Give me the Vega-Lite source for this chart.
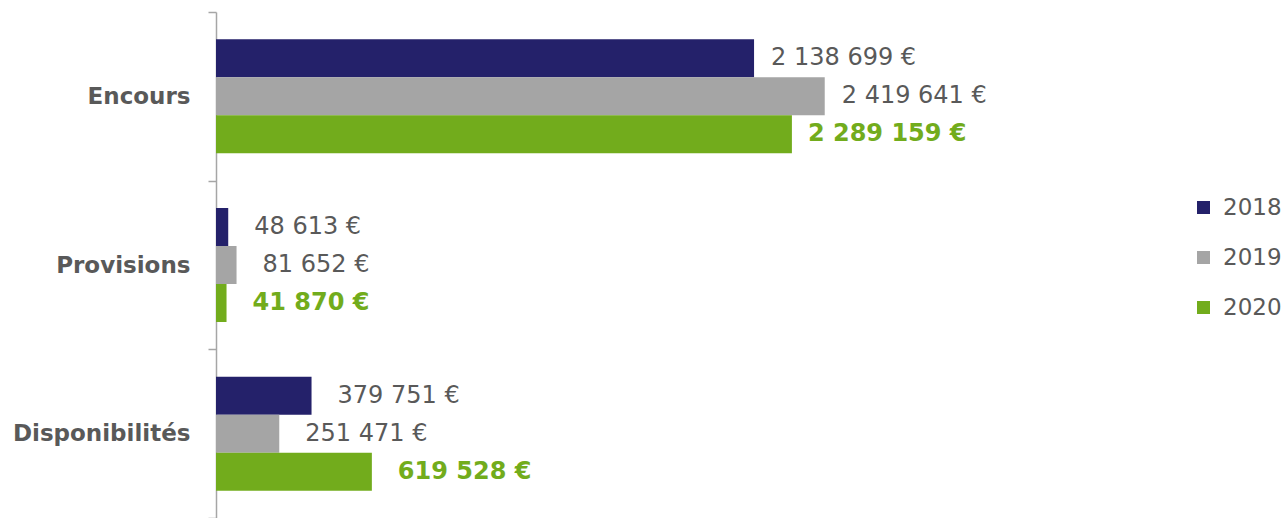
{
  "$schema": "https://vega.github.io/schema/vega-lite/v6.json",
  "autosize": "none",
  "width": 956,
  "height": 506,
  "padding": {"left": 216, "top": 12, "right": 113, "bottom": 0},
  "background": "white",
  "config": {
    "view": {"stroke": null},
    "locale": {"number": {"decimal": ",", "thousands": " ", "grouping": [3], "currency": ["", " €"]}},
    "font": "DejaVu Sans"
  },
  "data": {
    "values": [
      {"cat": "Encours", "year": "2018", "value": 2138699},
      {"cat": "Encours", "year": "2019", "value": 2419641},
      {"cat": "Encours", "year": "2020", "value": 2289159},
      {"cat": "Provisions", "year": "2018", "value": 48613},
      {"cat": "Provisions", "year": "2019", "value": 81652},
      {"cat": "Provisions", "year": "2020", "value": 41870},
      {"cat": "Disponibilités", "year": "2018", "value": 379751},
      {"cat": "Disponibilités", "year": "2019", "value": 251471},
      {"cat": "Disponibilités", "year": "2020", "value": 619528}
    ]
  },
  "encoding": {
    "y": {
      "field": "cat", "type": "nominal", "sort": ["Encours", "Provisions", "Disponibilités"], "title": null,
      "scale": {"paddingInner": 0, "paddingOuter": 0},
      "axis": {
        "tickBand": "extent", "domainColor": "#A6A6A6", "domainWidth": 1.5, "tickColor": "#A6A6A6", "tickWidth": 1.5, "tickSize": 8,
        "labelFont": "DejaVu Sans", "labelFontWeight": "bold", "labelFontSize": 23, "labelColor": "#595959", "labelPadding": 18
      }
    },
    "yOffset": {"field": "year", "type": "nominal", "sort": ["2018", "2019", "2020"], "scale": {"paddingInner": 0, "paddingOuter": 0.72}},
    "x": {"field": "value", "type": "quantitative", "scale": {"domain": [0, 3800000], "nice": false}, "axis": null}
  },
  "layer": [
    {
      "mark": {"type": "bar"},
      "encoding": {
        "color": {
          "field": "year", "type": "nominal",
          "scale": {"domain": ["2018", "2019", "2020"], "range": ["#24216A", "#A5A5A5", "#72AC1C"]},
          "legend": {
            "title": null, "orient": "none", "legendX": 976, "legendY": 184, "symbolType": "square", "symbolSize": 169,
            "symbolStrokeWidth": 0, "labelFont": "DejaVu Sans", "labelFontSize": 23, "labelColor": "#595959", "labelOffset": 8, "rowPadding": 26, "padding": 0
          }
        }
      }
    },
    {
      "transform": [{"filter": "datum.year != '2020' && datum.cat == 'Encours'"}],
      "mark": {"type": "text", "align": "left", "baseline": "middle", "dx": 17, "fontSize": 24, "color": "#595959", "font": "DejaVu Sans"},
      "encoding": {"text": {"field": "value", "type": "quantitative", "format": "$,d"}}
    },
    {
      "transform": [{"filter": "datum.year != '2020' && datum.cat != 'Encours'"}],
      "mark": {"type": "text", "align": "left", "baseline": "middle", "dx": 26, "fontSize": 24, "color": "#595959", "font": "DejaVu Sans"},
      "encoding": {"text": {"field": "value", "type": "quantitative", "format": "$,d"}}
    },
    {
      "transform": [{"filter": "datum.year == '2020' && datum.cat == 'Encours'"}],
      "mark": {"type": "text", "align": "left", "baseline": "middle", "dx": 16, "fontSize": 24, "fontWeight": "bold", "color": "#72AC1C", "font": "DejaVu Sans"},
      "encoding": {"text": {"field": "value", "type": "quantitative", "format": "$,d"}}
    },
    {
      "transform": [{"filter": "datum.year == '2020' && datum.cat != 'Encours'"}],
      "mark": {"type": "text", "align": "left", "baseline": "middle", "dx": 26, "fontSize": 24, "fontWeight": "bold", "color": "#72AC1C", "font": "DejaVu Sans"},
      "encoding": {"text": {"field": "value", "type": "quantitative", "format": "$,d"}}
    }
  ]
}
